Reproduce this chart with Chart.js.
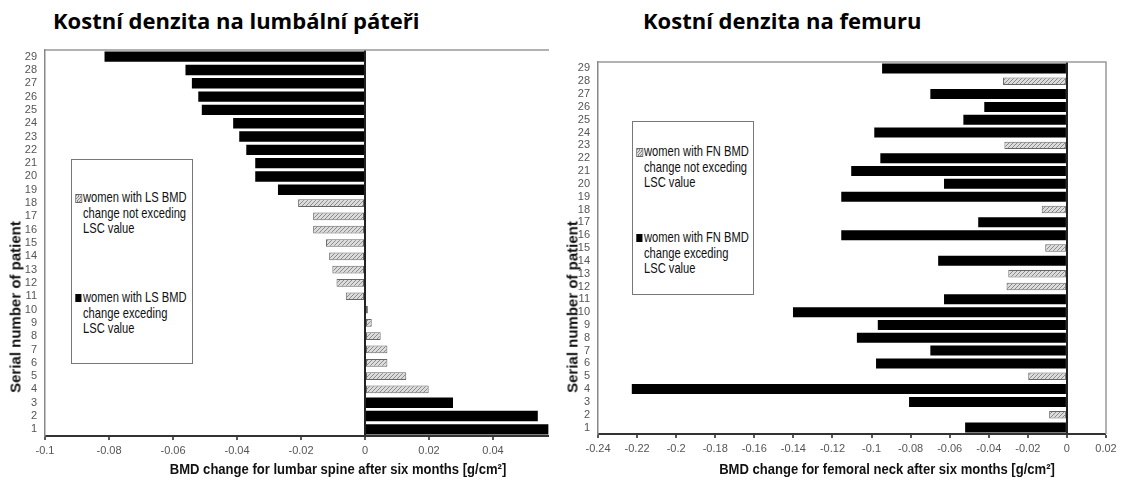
<!DOCTYPE html>
<html>
<head>
<meta charset="utf-8">
<script src="https://cdn.jsdelivr.net/npm/chart.js@4/dist/chart.umd.min.js"></script>
<style>
  body { margin: 0; background: #fff; width: 1121px; height: 485px; position: relative; overflow: hidden; }
  .box { position: absolute; }
  .head { position: absolute; top: 9px; font: bold 22px 'Open Sans', Lato, sans-serif; line-height: 22px; color: #000; white-space: nowrap; }
  .xt { position: absolute; font: bold 15px 'Liberation Sans', Arial, sans-serif; color: #111; white-space: nowrap; transform: translateX(-50%) scaleX(0.87); }
  .yt { position: absolute; font: bold 15px 'Liberation Sans', Arial, sans-serif; color: #111; white-space: nowrap; transform: translate(-50%, -50%) rotate(-90deg); }
  .legend { position: absolute; border: 1px solid #777; background: #fff; font: 14.5px 'Liberation Sans', Arial, sans-serif; color: #111; }
  .item { position: absolute; left: 11px; line-height: 15.5px; white-space: nowrap; transform: scaleX(0.77); transform-origin: left top; }
  .sw { position: absolute; left: -10px; top: 4px; width: 8px; height: 8px; }
  .sw.h { background: repeating-linear-gradient(135deg, #888 0 1px, #ddd 1px 2.5px); border: 1px solid #666; width: 7px; height: 7px; }
  .sw.b { background: #000; }
</style>
</head>
<body>
<div class="head" style="left:53px">Kostní denzita na lumbální páteři</div>
<div class="head" style="left:643px">Kostní denzita na femuru</div>

<div class="box" style="left:0;top:0;width:560px;height:485px"><canvas id="lsChart"></canvas></div>
<div class="box" style="left:560px;top:0;width:561px;height:485px"><canvas id="fnChart"></canvas></div>

<div class="legend" style="left:71px;top:159px;width:120px;height:203px">
  <div class="item" style="top:30px"><span class="sw h"></span>women with LS BMD<br>change not exceding<br>LSC value</div>
  <div class="item" style="top:130px"><span class="sw b"></span>women with LS BMD<br>change exceding<br>LSC value</div>
</div>
<div class="legend" style="left:632px;top:121px;width:120px;height:172px">
  <div class="item" style="top:22px"><span class="sw h"></span>women with FN BMD<br>change not exceding<br>LSC value</div>
  <div class="item" style="top:108px"><span class="sw b"></span>women with FN BMD<br>change exceding<br>LSC value</div>
</div>

<div class="xt" style="left:338px;top:460px">BMD change for lumbar spine after six months [g/cm²]</div>
<div class="xt" style="left:887px;top:460px">BMD change for femoral neck after six months [g/cm²]</div>
<div class="yt" style="left:15px;top:307px">Serial number of patient</div>
<div class="yt" style="left:572px;top:307px">Serial number of patient</div>

<script>
// patient serial numbers (1 at the bottom)
const patients = Array.from({ length: 29 }, (_, i) => String(i + 1));

// lumbar spine BMD change [g/cm2], split by LSC
const lsExceeding = [0.0573, 0.054, 0.0275, null, null, null, null, null, null, null,
  null, null, null, null, null, null, null, null, -0.0272, -0.0343,
  -0.0343, -0.0371, -0.0393, -0.0412, -0.0510, -0.0521, -0.0541, -0.0561, -0.0814];
const lsNotExceeding = [null, null, null, 0.0199, 0.0129, 0.0070, 0.0070, 0.0049, 0.0021, 0.0009,
  -0.0060, -0.0089, -0.0102, -0.0112, -0.0122, -0.0162, -0.0162, -0.0209, null, null,
  null, null, null, null, null, null, null, null, null];

// femoral neck BMD change [g/cm2], split by LSC
const fnExceeding = [-0.0521, null, -0.0808, -0.2227, null, -0.0977, -0.0699, -0.1075, -0.0968, -0.1402,
  -0.0629, null, null, -0.0659, null, -0.1155, -0.0454, null, -0.1155, -0.0629,
  -0.1104, -0.0955, null, -0.0986, -0.0530, -0.0423, -0.0699, null, -0.0946];
const fnNotExceeding = [null, -0.0091, null, null, -0.0198, null, null, null, null, null,
  null, -0.0309, -0.0300, null, -0.0111, null, null, -0.0129, null, null,
  null, null, -0.0320, null, null, null, null, -0.0327, null];

const lsTicks = [-0.1, -0.08, -0.06, -0.04, -0.02, 0, 0.02, 0.04];
const fnTicks = [-0.24, -0.22, -0.2, -0.18, -0.16, -0.14, -0.12, -0.1, -0.08, -0.06, -0.04, -0.02, 0, 0.02];

const tickFont = { family: "'Liberation Sans', Arial, sans-serif", size: 11 };

function hatch() {
  const c = document.createElement('canvas');
  c.width = c.height = 4;
  const g = c.getContext('2d');
  g.fillStyle = '#dcdcdc';
  g.fillRect(0, 0, 4, 4);
  g.strokeStyle = '#8a8a8a';
  g.lineWidth = 1;
  g.beginPath();
  g.moveTo(0, 4); g.lineTo(4, 0);
  g.moveTo(-1, 1); g.lineTo(1, -1);
  g.moveTo(3, 5); g.lineTo(5, 3);
  g.stroke();
  return g.createPattern(c, 'repeat');
}

// top (and optional right) frame of the plot area
const frame = {
  id: 'frame',
  afterDraw(chart, args, opts) {
    const { ctx, chartArea: a } = chart;
    ctx.save();
    ctx.strokeStyle = '#999';
    ctx.lineWidth = 1.5;
    ctx.beginPath();
    ctx.moveTo(a.left, a.top); ctx.lineTo(a.right, a.top);
    if (opts.right) { ctx.lineTo(a.right, a.bottom); }
    ctx.stroke();
    ctx.restore();
  },
};

function makeChart(id, black, hatched, tickVals, min, max, pad, yWidth, rightBorder) {
  return new Chart(document.getElementById(id), {
    type: 'bar',
    data: {
      labels: patients,
      datasets: [
        { data: hatched, backgroundColor: hatch(), borderColor: '#666', borderWidth: 1, barPercentage: 0.58, categoryPercentage: 1, grouped: false, borderSkipped: false },
        { data: black,   backgroundColor: '#000', borderWidth: 0, barPercentage: 0.78, categoryPercentage: 1, grouped: false },
      ],
    },
    options: {
      indexAxis: 'y',
      responsive: true, maintainAspectRatio: false, animation: false,
      layout: { padding: pad },
      plugins: { legend: { display: false }, tooltip: { enabled: false }, frame: { right: rightBorder } },
      scales: {
        x: {
          min, max,
          afterBuildTicks: s => { s.ticks = tickVals.map(v => ({ value: v })); },
          afterFit: s => { s.height = 26; },
          border: { color: '#333', width: 2 },
          grid: {
            color: c => (c.tick && Math.abs(c.tick.value) < 1e-9 ? '#222' : 'rgba(0,0,0,0)'),
            lineWidth: c => (c.tick && Math.abs(c.tick.value) < 1e-9 ? 2 : 0),
            tickColor: '#222', tickLength: 4, tickWidth: 1.5,
          },
          ticks: { color: '#555', font: tickFont, padding: 4, maxRotation: 0, autoSkip: false, callback: v => String(+(+v).toFixed(2)) },
        },
        y: {
          reverse: true,
          afterFit: s => { s.width = yWidth; },
          border: { color: '#888', width: 1.5 },
          grid: { display: false, drawTicks: false },
          ticks: { color: '#555', font: tickFont, padding: 8, autoSkip: false },
        },
      },
    },
    plugins: [frame],
  });
}

makeChart('lsChart', lsExceeding, lsNotExceeding, lsTicks, -0.1, 0.0575,
  { top: 50, right: 11, bottom: 23, left: 0 }, 45, false);
makeChart('fnChart', fnExceeding, fnNotExceeding, fnTicks, -0.24, 0.02,
  { top: 62, right: 15, bottom: 25, left: 0 }, 38, true);
</script>
</body>
</html>
